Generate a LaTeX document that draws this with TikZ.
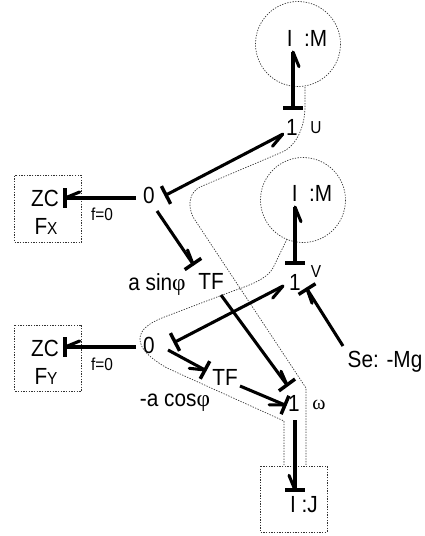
\documentclass[tikz,border=0pt]{standalone}
\usepackage{fontspec}
\setmainfont[FakeStretch=0.89]{Liberation Sans}
\newfontfamily\greekfont{Liberation Serif}
\usetikzlibrary{decorations.markings}
\newcommand{\smalltext}{\fontsize{13}{13}\selectfont}
\tikzset{
  elem/.style={inner sep=0pt,font=\fontsize{17.5}{17.5}\selectfont},
  small/.style={inner sep=0pt,font=\smalltext},
  env/.style={draw=black!80,line width=0.5pt,dash pattern=on 1pt off 1pt},
  bond/.style={line width=2.3pt},
  rbarb/.style={postaction={decorate,decoration={markings,mark=at position 1 with
    {\draw[line width=2.3pt,line cap=round] (0pt,0pt) -- (-11pt,-4.5pt);}}}},
  lbarb/.style={postaction={decorate,decoration={markings,mark=at position 1 with
    {\draw[line width=2.3pt,line cap=round] (0pt,0pt) -- (-11pt,2.5pt);}}}},
  endbar/.style={postaction={decorate,decoration={markings,mark=at position 1 with
    {\draw[line width=2.6pt] (0pt,-7.5pt) -- (0pt,7.5pt);}}}},
  startbar/.style={postaction={decorate,decoration={markings,mark=at position 0 with
    {\draw[line width=2.6pt] (0pt,-7.5pt) -- (0pt,7.5pt);}}}}
}
\begin{document}
\begin{tikzpicture}[x=0.75pt,y=-0.75pt]
\useasboundingbox (0,0) rectangle (425,536);

% envelopes
\draw[env] (298,44) circle (42.5);
\draw[env] (303,200) circle (42.5);
\draw[env] (14.5,175.5) rectangle (81.5,242);
\draw[env] (14.5,325) rectangle (81.5,391);
\draw[env] (260,466) rectangle (327,532);
\draw[env] (305,87) -- (305,107) .. controls (305,122) and (299,146) .. (280,153)
  -- (200,187) .. controls (190,192) and (187,204) .. (193,217) -- (306,388) -- (306,466);
\draw[env] (287,239) -- (273,268) .. controls (268,276) and (260,282) .. (233,291)
  -- (167,316) .. controls (148,323) and (140,330) .. (140,339)
  .. controls (140,348) and (148,357) .. (167,368) -- (284,421) -- (284,466);

% elements
\node[elem] (massu) at (307,38) {I~~:M};
\node[elem] (oneu) at (292,127) {1};
\node[small] (labu) at (316,128) {U};
\node[elem] (zerox) at (149,195) {0};
\node[elem] (zcx) at (45,198) {ZC};
\node[elem] (fx) at (46,226) {F{\smalltext X}};
\node[small] (fzerox) at (102,214) {f=0};
\node[elem] (tfa) at (211,281) {TF};
\node[elem] (sinlab) at (157,285) {a sin{\greekfont φ}};
\node[elem] (massv) at (312,193) {I~~:M};
\node[elem] (onev) at (295,282) {1};
\node[small] (labv) at (316,272) {V};
\node[elem] (se) at (385,362) {Se: -Mg};
\node[elem] (zeroy) at (149,345) {0};
\node[elem] (zcy) at (45,348) {ZC};
\node[elem] (fy) at (46,376) {F{\smalltext Y}};
\node[small] (fzeroy) at (102,364) {f=0};
\node[elem] (tfb) at (225,377) {TF};
\node[elem] (coslab) at (175,403) {-a cos{\greekfont φ}};
\node[elem] (onew) at (294,403) {1};
\node[inner sep=0pt,font=\fontsize{15}{15}\selectfont] (labw) at (319,405) {{\greekfont ω}};
\node[elem] (massj) at (304,505) {I~:J};

% bonds
\draw[bond,startbar,rbarb] ([shift={(1,-19)}]oneu.center) -- ([shift={(-14,14)}]massu.center);
\draw[bond,startbar,rbarb] ([shift={(17,0)}]zerox.center) -- ([shift={(-9,7)}]oneu.center);
\draw[bond,rbarb,endbar] ([shift={(-13,3)}]zerox.center) -- ([shift={(20,0)}]zcx.center);
\draw[bond,lbarb,endbar] ([shift={(8,16)}]zerox.center) -- ([shift={(-18,-17)}]tfa.center);
\draw[bond,lbarb,endbar] ([shift={(10,14)}]tfa.center) -- ([shift={(-7,-18)}]onew.center);
\draw[bond,startbar,rbarb] ([shift={(0,-19)}]onev.center) -- ([shift={(-17,14)}]massv.center);
\draw[bond,startbar,rbarb] ([shift={(26,-3)}]zeroy.center) -- ([shift={(-12,4)}]onev.center);
\draw[bond,rbarb,endbar] ([shift={(-13,2)}]zeroy.center) -- ([shift={(20,-1)}]zcy.center);
\draw[bond,rbarb,endbar] ([shift={(19,5)}]zeroy.center) -- ([shift={(-20,-7)}]tfb.center);
\draw[bond,rbarb,endbar] ([shift={(15,9)}]tfb.center) -- ([shift={(-9,2)}]onew.center);
\draw[bond,rbarb,endbar] ([shift={(1,17)}]onew.center) -- ([shift={(-9,-15)}]massj.center);
\draw[bond,lbarb,endbar] ([shift={(-42,-16)}]se.center) -- ([shift={(12,7)}]onev.center);
\end{tikzpicture}
\end{document}
